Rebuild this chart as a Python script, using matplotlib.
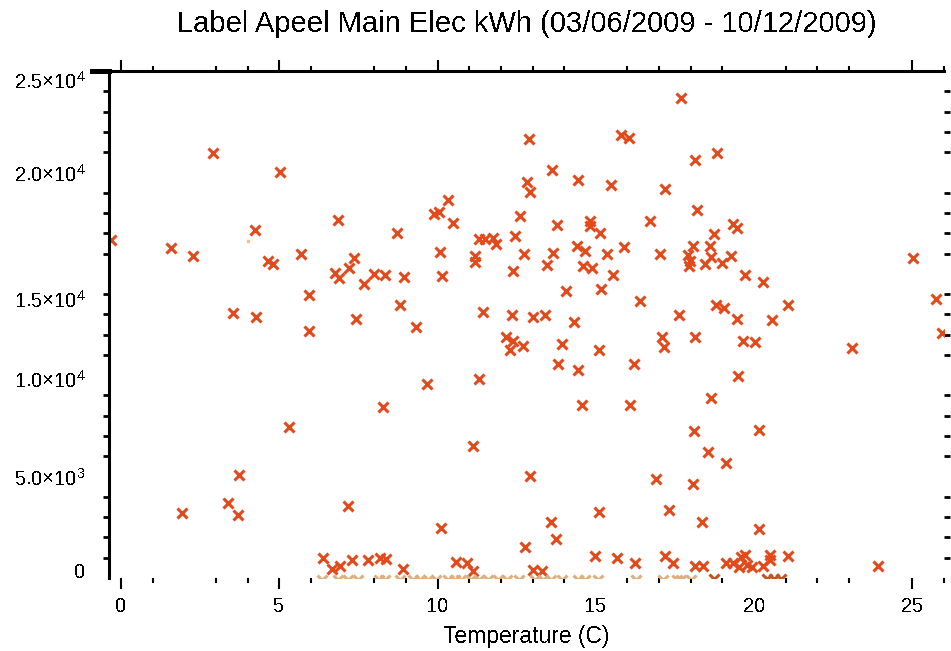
import matplotlib
matplotlib.use("Agg")
import matplotlib.pyplot as plt
from matplotlib.ticker import FixedLocator
from matplotlib.transforms import ScaledTranslation

plt.rcParams['font.family'] = ['Liberation Sans', 'DejaVu Sans']
plt.rcParams['mathtext.default'] = 'regular'
plt.rcParams['text.antialiased'] = False
plt.rcParams['lines.antialiased'] = False

# readings (temperature C, kWh)
temp = [17.70, 2.91, 12.90, 15.80, 16.06, 18.84, 5.03, 18.14, 13.62, 12.83,
        14.44, 15.49, 12.93, 17.19, 10.33, 9.89, 10.05, 10.49, 6.86, 4.24,
        8.72, 12.61, 13.78, 14.82, 14.82, 15.14, 16.72, 18.20, 19.34, 19.47,
        18.74, -0.32, 1.58, 2.28, 5.69, 4.65, 4.80, 7.36, 7.21, 6.76,
        6.89, 8.00, 8.34, 8.94, 7.68, 5.94, 8.82, 3.54, 4.27, 7.43,
        5.94, 8.28, 5.31, 10.08, 11.31, 11.50, 11.76, 11.85, 12.45, 11.19,
        11.19, 12.74, 13.65, 13.46, 14.41, 14.66, 14.60, 14.89, 15.36, 15.90,
        17.04, 18.08, 17.92, 17.95, 17.98, 18.62, 18.65, 18.46, 18.99, 19.28,
        25.03, 10.15, 12.39, 15.55, 14.06, 15.17, 16.40, 11.44, 12.36, 13.02,
        13.40, 14.32, 17.64, 9.32, 12.17, 12.39, 12.29, 12.71, 13.94, 15.11,
        16.21, 13.81, 14.44, 17.10, 17.16, 18.14, 9.67, 11.31, 14.57, 16.09,
        18.11, 11.13, 19.72, 20.29, 18.81, 19.06, 21.08, 19.47, 20.58, 25.76,
        25.95, 19.66, 20.04, 23.10, 19.50, 18.65, 20.16, 18.55, 19.12, 18.08,
        18.36, 20.16, 3.73, 3.38, 1.93, 3.70, 7.17, 6.38, 6.67, 6.92,
        7.30, 7.81, 8.19, 8.38, 8.91, 10.59, 10.94, 11.13, 13.02, 13.31,
        12.77, 13.75, 13.59, 10.11, 12.93, 16.91, 17.32, 15.11, 14.98, 15.68,
        16.25, 17.19, 17.45, 18.14, 18.39, 19.12, 19.34, 19.53, 19.72, 19.60,
        19.78, 19.94, 20.29, 20.51, 20.51, 21.08, 23.93]
kwh = [23660, 20950, 21640, 21830, 21690, 20950, 20010, 20600, 20110, 19510,
       19610, 19360, 19020, 19170, 18620, 17930, 18030, 17490, 17640, 17140,
       16990, 17830, 17390, 17590, 17340, 16990, 17590, 18130, 17440, 17240,
       16940, 16650, 16250, 15860, 15960, 15610, 15460, 15760, 15310, 15020,
       14770, 14970, 14920, 14820, 14520, 13930, 13440, 13090, 12890, 12790,
       12200, 8450, 7460, 16060, 16700, 16700, 16750, 16450, 16850, 15860,
       15560, 15960, 16010, 15410, 16350, 16100, 15360, 15310, 15960, 16300,
       15960, 16350, 15910, 15360, 15610, 16350, 15810, 15460, 15510, 15860,
       15760, 14870, 15120, 14920, 14130, 14230, 13680, 13140, 12990, 12890,
       12990, 12600, 12990, 12400, 11860, 11710, 11260, 11460, 11560, 11260,
       10570, 10570, 10280, 11860, 11410, 11860, 9580, 9830, 8550, 8550,
       7260, 6520, 14920, 14620, 13440, 13290, 13440, 12790, 12700, 13780,
       12100, 11710, 11660, 11360, 9980, 8890, 7310, 6220, 5680, 4640,
       2770, 2420, 5090, 3710, 3210, 3110, 3560, 990, 440, 590,
       890, 890, 990, 940, 440, 790, 740, 350, 400, 350,
       1530, 1930, 2770, 2470, 5040, 4890, 3360, 3260, 1090, 990,
       740, 1090, 740, 590, 590, 740, 740, 540, 1140, 1040,
       640, 540, 590, 1140, 890, 1090, 590]

# a faint single reading
faint_temp = [4.0]
faint_kwh = [16600]

# readings sitting just under zero (clipped at the axis)
low_temp = [6.35, 6.84, 7.17, 7.49, 8.15, 8.34, 8.82, 9.23, 9.45, 9.70,
            9.96, 10.33, 10.56, 10.75, 11.06, 11.31, 11.60, 11.92, 12.20, 12.58,
            13.08, 13.34, 13.59, 13.94, 14.44, 14.66, 15.08, 16.28, 17.13, 17.57,
            17.70, 18.00]
low_kwh = [-110, -100, -110, -100, -120, -100, -110, -100, -120, -110,
           -100, -110, -100, -120, -110, -100, -110, -100, -120, -110,
           -100, -110, -120, -100, -110, -100, -110, -100, -110, -120,
           -100, -110]
neg_temp = [18.74, 20.42, 20.64, 20.86]
neg_kwh = [-60, -60, -60, -60]

fig = plt.figure(figsize=(9.51, 6.51), dpi=100)
ax = fig.add_axes([109/951, 73/651, 835/951, 507/651])

ax.plot(temp, kwh, linestyle='none', marker='x', markersize=6.5,
        markeredgewidth=2.2, color='#e2491b')
ax.plot(faint_temp, faint_kwh, linestyle='none', marker='s', markersize=1.5,
        color='#f5c08a')
ax.plot(low_temp, low_kwh, linestyle='none', marker='x', markersize=6.5,
        markeredgewidth=2.2, color='#e0ae7c')
ax.plot(neg_temp, neg_kwh, linestyle='none', marker='x', markersize=6.5,
        markeredgewidth=2.2, color='#c4521f')

ax.set_xlim(-0.38, 26.0)
ax.set_ylim(0, 25000)

for s in ['bottom', 'right']:
    ax.spines[s].set_visible(False)
for s in ['top', 'left']:
    ax.spines[s].set_linewidth(2.2)
ax.plot([-0.02, 0], [1, 1], transform=ax.transAxes, clip_on=False,
        color='black', linewidth=2.2)

ax.set_xticks([0, 5, 10, 15, 20, 25])
ax.set_xticklabels(['0', '5', '10', '15', '20', '25'])
ax.xaxis.set_minor_locator(FixedLocator([1, 3, 4, 6, 8, 9, 11, 12, 13, 14, 16,
                                         17, 18, 19, 21, 22, 23, 26]))
ax.tick_params(axis='x', which='major', direction='out', length=8, width=1.5,
               top=True, bottom=True, labelsize=14.5, pad=6)
ax.tick_params(axis='x', which='minor', direction='out', length=3.5, width=1.5,
               top=True, bottom=True)
for t in ax.xaxis.get_major_ticks()[3:5]:
    t.tick1line.set_visible(False)
    t.tick2line.set_visible(False)

ax.set_yticks([0, 5000, 10000, 15000, 20000, 25000])
ax.set_yticklabels(['0', r'$5.0{\times}10^{3}$', r'$1.0{\times}10^{4}$',
                    r'$1.5{\times}10^{4}$', r'$2.0{\times}10^{4}$',
                    r'$2.5{\times}10^{4}$'])
ax.yaxis.set_minor_locator(FixedLocator([k * 1000 for k in range(1, 25) if k % 5]))
ax.tick_params(axis='y', which='major', length=0, labelsize=14.5, pad=17)
ax.tick_params(axis='y', which='minor', direction='out', length=4, width=2,
               left=True, right=True)
ylabels = ax.get_yticklabels()
ylabels[0].set_va('baseline')
ylabels[-1].set_va('top')
# the 1.5 and 1.0 labels sit a little low in the original
for lab, dy in [(ylabels[3], -0.25), (ylabels[2], -0.04)]:
    lab.set_transform(lab.get_transform() + ScaledTranslation(0, dy, fig.dpi_scale_trans))

ax.set_xlabel('Temperature (C)', fontsize=16.5, labelpad=6)
ax.set_title('Label Apeel Main Elec kWh (03/06/2009 - 10/12/2009)',
             fontsize=21, pad=28)

fig.savefig('out.png', dpi=100)
